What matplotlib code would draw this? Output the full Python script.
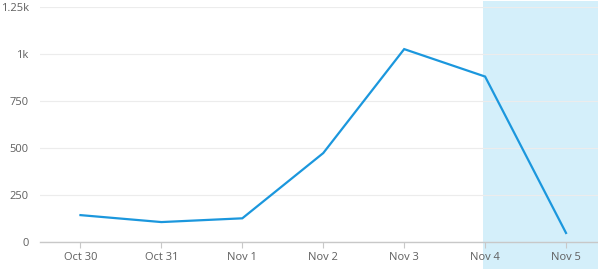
import matplotlib
matplotlib.use("Agg")
import matplotlib.pyplot as plt
from matplotlib.patches import Rectangle
import matplotlib.transforms as mtransforms

categories = ["Oct 30", "Oct 31", "Nov 1", "Nov 2", "Nov 3", "Nov 4", "Nov 5"]
values = [143, 106, 126, 473, 1026, 880, 48]
ytick_values = [0, 250, 500, 750, 1000, 1250]
ytick_labels = ["0", "250", "500", "750", "1k", "1.25k"]
highlight_start = "Nov 4"

plt.rcParams['font.family'] = ['Open Sans', 'DejaVu Sans']

fig = plt.figure(figsize=(5.98, 2.69), dpi=100)
ax = fig.add_axes([40/598, 1-242/269, 1-40/598, (242-7)/269])

x = list(range(len(categories)))
ax.plot(x, values, color="#1b97dd", lw=1.6, zorder=3, solid_joinstyle="miter")

ax.set_xlim(-0.5, (598-80)/81)
ax.set_ylim(0, 1250)

# highlight region spanning full figure height
trans = mtransforms.blended_transform_factory(ax.transData, fig.transFigure)
hs = categories.index(highlight_start) - 0.03
rect = Rectangle((hs, 0), 10, 0.997, transform=trans, facecolor="#d4effa",
                 edgecolor="none", zorder=0.1, clip_on=False)
ax.add_patch(rect)
ax.set_facecolor("none")

ax.set_xticks(x)
ax.set_xticklabels(categories)
ax.set_yticks(ytick_values)
ax.set_yticklabels(ytick_labels)

for s in ["top", "right", "left"]:
    ax.spines[s].set_visible(False)
ax.spines["bottom"].set_color("#c8c8c8")
ax.spines["bottom"].set_linewidth(1.0)

ax.grid(axis="y", color="#ececec", lw=0.8, zorder=0.5)
ax.set_axisbelow(True)
ax.tick_params(axis="x", colors="#c8c8c8", length=4, width=0.8, labelcolor="#5f5f5f",
               labelsize=8, pad=3)
ax.tick_params(axis="y", length=0, labelcolor="#5f5f5f", labelsize=8, pad=8)

fig.savefig("out.png", dpi=100)
